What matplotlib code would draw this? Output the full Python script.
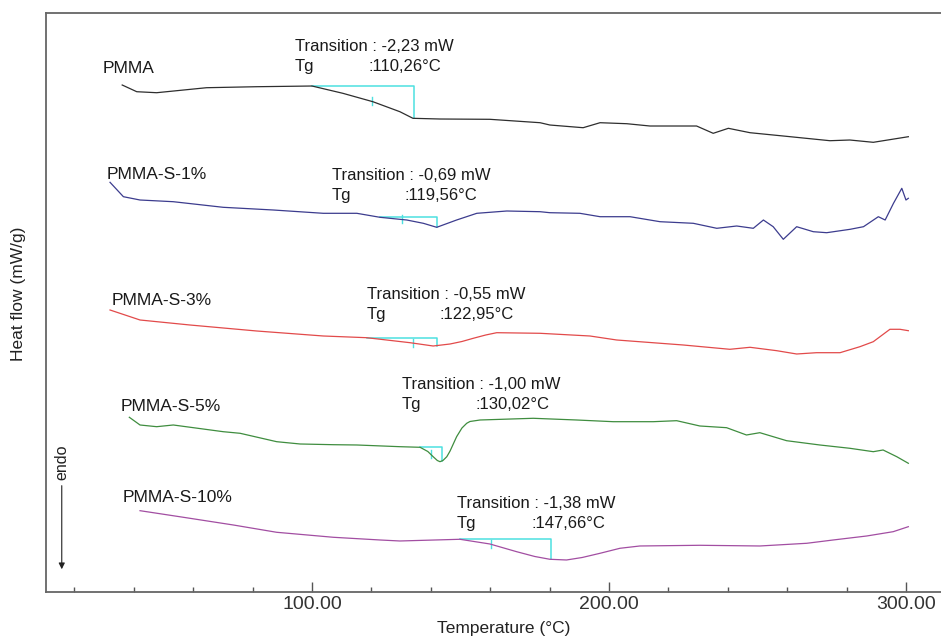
import numpy as np
import matplotlib.pyplot as plt

plt.rcParams['font.family'] = ['Liberation Sans', 'DejaVu Sans']

# temperature (°C) / heat flow (offset, arbitrary units)
t_pmma = [36.1, 41.0, 47.7, 64.5, 81.4, 100.0, 110.4, 120.5, 129.6, 134.0, 143.1, 159.9,
          176.8, 180.1, 191.3, 197.0, 206.0, 213.8, 229.5, 235.1, 240.2, 247.5, 258.7,
          274.4, 281.1, 289.0, 300.8]
hf_pmma = [507, 500.3, 499.3, 504.3, 505.3, 506, 498.7, 490.3, 480.3, 473.7, 473, 472.7,
           469.3, 467, 464.3, 469.3, 468.3, 466, 466, 458.7, 463.7, 459.3, 456,
           451.3, 452, 449.7, 455.3]

t_s1 = [32.0, 36.5, 42.1, 53.3, 70.1, 87.0, 103.8, 115.1, 122.9, 131.9, 137.5, 142.0,
        148.7, 155.5, 165.6, 176.8, 180.1, 190.2, 197.0, 207.1, 217.2, 228.4, 236.3,
        243.0, 248.6, 252.0, 255.3, 258.7, 263.2, 268.8, 273.3, 281.2, 285.7, 290.7,
        293.0, 295.8, 298.6, 300.0, 300.8]
hf_s1 = [409.7, 395.3, 392, 390.3, 384.7, 382, 378.7, 378.7, 374.7, 372, 368.7, 364.7,
         372, 378.7, 381, 380.3, 379.3, 378.7, 375.3, 375.3, 370.3, 368.7, 363.7,
         366, 363.7, 372, 365.3, 352.7, 365.3, 360.3, 359.3, 362.7, 365.3, 375.3,
         372, 388.7, 403.7, 392, 393.7]

t_s3 = [32.0, 42.1, 58.9, 81.4, 103.8, 118.4, 133.0, 140.8, 146.5, 150.5, 154.3, 158.5,
        162.2, 176.8, 193.6, 202.6, 225.0, 240.7, 247.5, 256.5, 263.2, 269.9, 277.8,
        284.5, 289.0, 294.6, 298.0, 300.8]
hf_s3 = [282, 272, 267, 261, 256, 254.3, 249.3, 246, 248, 250.5, 253.7, 257,
         259.3, 258.7, 256, 252, 247, 242.7, 244.7, 241.3, 238, 239.3, 239.3,
         245.3, 250.3, 262.7, 262.7, 261.3]

t_s5 = [38.5, 42.1, 47.7, 53.3, 70.1, 75.8, 88.1, 96.0, 107.1, 115.1, 129.6, 136.4,
        139.0, 140.8, 142.2, 143.1, 144.1, 145.4, 146.5, 148.7, 150.5, 152.1, 153.2,
        156.6, 174.5, 189.1, 201.4, 214.9, 222.8, 230.6, 239.6, 246.3, 250.8, 259.8,
        271.0, 281.1, 289.0, 292.3, 296.9, 300.8]
hf_s5 = [174.7, 167, 165.3, 167, 160.3, 158.7, 150.3, 148, 147.3, 147, 145.3, 144.7,
         140.5, 135.3, 131.5, 130.3, 131.5, 135.3, 141, 155.3, 164, 168.7, 170.5,
         172, 173.7, 172, 170.3, 170.3, 171.3, 166, 164.3, 157, 159.3, 151.3,
         147, 143.7, 140.3, 142, 135.3, 128.7]

t_s10 = [42.1, 56.7, 73.5, 88.1, 107.2, 122.9, 129.6, 149.8, 159.9, 168.9, 175.0, 180.1,
         185.7, 191.0, 197.0, 203.7, 210.4, 230.6, 250.8, 266.6, 275.5, 286.8, 295.7, 300.8]
hf_s10 = [81.3, 74.7, 67, 59.7, 54.7, 52, 51, 52.7, 48, 40.3, 35.5, 32.7,
          32, 34.5, 38.7, 43.7, 46, 46.7, 46, 48.7, 52, 56, 60.3, 65.3]

names = ['PMMA', 'PMMA-S-1%', 'PMMA-S-3%', 'PMMA-S-5%', 'PMMA-S-10%']
transitions = ['-2,23 mW', '-0,69 mW', '-0,55 mW', '-1,00 mW', '-1,38 mW']
tg_values = ['110,26°C', '119,56°C', '122,95°C', '130,02°C', '147,66°C']

# glass transition step: onset, end, mid mark (°C)
step_onset = [100.0, 122.9, 118.4, 136.4, 149.8]
step_end = [134.5, 142.2, 142.2, 143.7, 180.4]
step_mid = [120.1, 130.2, 133.9, 140.0, 160.2]

temps = [t_pmma, t_s1, t_s3, t_s5, t_s10]
flows = [hf_pmma, hf_s1, hf_s3, hf_s5, hf_s10]

# layout
colors = ['#2e2e2e', '#3c3c8e', '#e24a4a', '#3f8d3f', '#a24ea2']
cyan = '#4de0e0'
name_pos = [(29.6, 523.7), (30.9, 418), (32.6, 291.3), (35.4, 185.3), (36.4, 94)]
note_pos = [(94.3, 545.3, 118.9), (106.6, 417, 131.3), (118.4, 297, 143.1),
            (130.2, 207, 154.9), (148.7, 88.7, 174.0)]
gap = 20

fig = plt.figure(figsize=(9.41, 6.38), dpi=100)
ax = fig.add_axes([0.0486, 0.0726, 0.9514, 0.907])

for i in range(len(names)):
    t = np.array(temps[i])
    hf = np.array(flows[i])
    ax.plot(t, hf, color=colors[i], lw=0.9, zorder=3)

    y0 = np.interp(step_onset[i], t, hf)
    y1 = np.interp(step_end[i], t, hf)
    ax.plot([step_onset[i], step_end[i], step_end[i]], [y0, y0, y1],
            color=cyan, lw=1.1, zorder=2)
    ym = np.interp(step_mid[i], t, hf)
    ax.plot([step_mid[i], step_mid[i]], [ym - 4, ym + 4], color=cyan, lw=1.0, zorder=2)

    ax.text(name_pos[i][0], name_pos[i][1], names[i], fontsize=12.5,
            ha='left', va='center', color='#1a1a1a')
    nx, ny, vx = note_pos[i]
    ax.text(nx, ny, 'Transition : ' + transitions[i], fontsize=12,
            ha='left', va='center', color='#1a1a1a')
    ax.text(nx, ny - gap, 'Tg', fontsize=12, ha='left', va='center', color='#1a1a1a')
    ax.text(vx, ny - gap, ':' + tg_values[i], fontsize=12,
            ha='left', va='center', color='#1a1a1a')

ax.set_xlim(10.35, 311.8)
ax.set_ylim(0.3, 579)

ax.set_xticks([100, 200, 300])
ax.set_xticklabels(['100.00', '200.00', '300.00'])
ax.set_xticks([20, 40, 60, 80, 120, 140, 160, 180, 220, 240, 260, 280], minor=True)
ax.tick_params(axis='x', which='major', direction='in', length=7, width=1.0,
               color='#555555', labelsize=14, labelcolor='#333333', pad=3)
ax.tick_params(axis='x', which='minor', direction='in', length=3.5, width=1.0,
               color='#555555')
ax.set_yticks([])

for side in ['left', 'bottom', 'top']:
    ax.spines[side].set_color('#666666')
    ax.spines[side].set_linewidth(1.3)
ax.spines['right'].set_visible(False)

ax.set_xlabel('Temperature (°C)', fontsize=12.5, color='#222222')
ax.xaxis.set_label_coords(0.512, -0.05)
ax.set_ylabel('Heat flow (mW/g)', fontsize=12.5, color='#222222')
ax.yaxis.set_label_coords(-0.022, 0.514)

# endo arrow
ax.annotate('', xy=(0.0179, 0.034), xytext=(0.0179, 0.188), xycoords='axes fraction',
            arrowprops=dict(arrowstyle='-|>', color='#222222', lw=0.8, mutation_scale=9))
ax.text(0.0179, 0.223, 'endo', transform=ax.transAxes, rotation=90, fontsize=11.5,
        ha='center', va='center', color='#222222')

plt.savefig('out.png', dpi=100)
plt.close()
